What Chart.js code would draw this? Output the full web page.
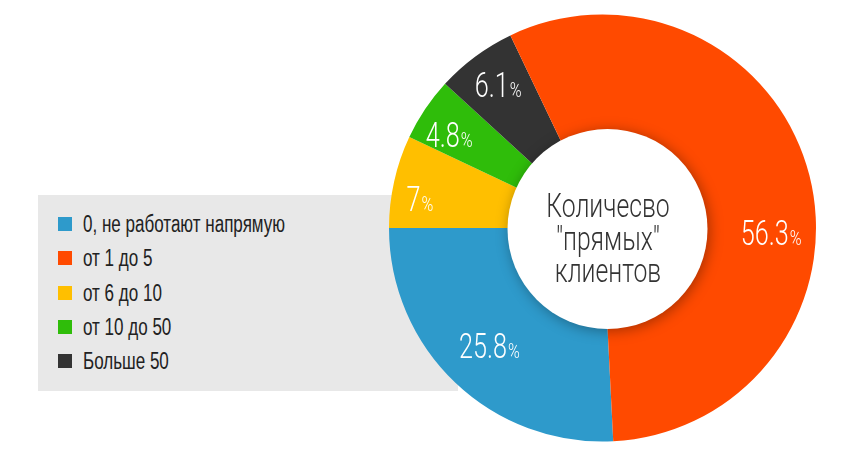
<!DOCTYPE html>
<html>
<head>
<meta charset="utf-8">
<script src="https://cdn.jsdelivr.net/npm/chart.js@4/dist/chart.umd.min.js"></script>
<style>
  html, body { margin: 0; padding: 0; background: #fff; }
  #wrap { position: relative; width: 843px; height: 470px; overflow: hidden; }
  #legendBox {
    position: absolute; left: 38px; top: 195px; width: 420px; height: 196px;
    background: #e8e8e8;
  }
  .leg-item {
    position: absolute; left: 20px; height: 24px; line-height: 24px;
    font-family: "Liberation Sans", Arial, sans-serif;
    font-size: 23px; color: #222; white-space: nowrap;
  }
  .leg-item i {
    position: absolute; left: 0; top: 5px; width: 14px; height: 14px;
  }
  .leg-item span {
    position: absolute; left: 25px; top: 0;
    transform: scaleX(0.74); transform-origin: 0 50%;
  }
  #chart { position: absolute; left: 0; top: 0; }
</style>
</head>
<body>
<div id="wrap">
  <div id="legendBox"></div>
  <canvas id="chart" width="843" height="470"></canvas>
</div>
<script>
// values in legend order
const categories = ['0, не работают напрямую', 'от 1 до 5', 'от 6 до 10', 'от 10 до 50', 'Больше 50'];
const shares = [25.8, 56.3, 7, 4.8, 6.1];
const colors = ['#2e9acb', '#ff4a00', '#ffbf00', '#2fbd0a', '#333333'];
// slices go clockwise starting with the blue one
const sliceOrder = [0, 2, 3, 4, 1];
const centerTitle = ['Количесво', '"прямых"', 'клиентов'];

// label placement tweaks (in slice order)
const labelShiftDeg = [0.3, -3.3, -2.6, 0.5, 15.6];
const labelRadius = [0.765, 0.867, 0.84, 0.83, 0.79];

const LIGHT = '300 35px Roboto, "Liberation Sans", sans-serif';
const LIGHT_PCT = '300 20px Roboto, "Liberation Sans", sans-serif';
const TITLE = '300 33px Roboto, "Liberation Sans", sans-serif';

const box = document.getElementById('legendBox');
categories.forEach((name, i) => {
    const row = document.createElement('div');
    row.className = 'leg-item';
    row.style.top = (17 + i * 34.3) + 'px';
    row.innerHTML = `<i style="background:${colors[i]}"></i><span>${name}</span>`;
    box.appendChild(row);
});

// draws text squeezed horizontally
function squeezed(ctx, text, x, y, font, sx) {
    ctx.save();
    ctx.font = font;
    ctx.translate(x, y);
    ctx.scale(sx, 1);
    ctx.fillText(text, 0, 0);
    ctx.restore();
}
function squeezedWidth(ctx, text, font, sx) {
    ctx.save();
    ctx.font = font;
    const w = ctx.measureText(text).width * sx;
    ctx.restore();
    return w;
}

const centerPlugin = {
    id: 'centerDisc',
    afterDatasetsDraw(chart) {
        const ctx = chart.ctx;
        const meta = chart.getDatasetMeta(0);
        const cx = meta.data[0].x, cy = meta.data[0].y, R = meta.data[0].outerRadius;

        // percentage labels
        meta.data.forEach((a, k) => {
            const idx = sliceOrder[k];
            const mid = (a.startAngle + a.endAngle) / 2 + labelShiftDeg[k] * Math.PI / 180;
            const r = R * labelRadius[k];
            const x = cx + Math.cos(mid) * r;
            const y = cy + Math.sin(mid) * r;
            const num = String(shares[idx]);
            ctx.save();
            ctx.fillStyle = '#fff';
            ctx.textAlign = 'left';
            ctx.textBaseline = 'alphabetic';
            const wNum = squeezedWidth(ctx, num, LIGHT, 0.72);
            const wPct = squeezedWidth(ctx, '%', LIGHT_PCT, 0.8);
            const left = x - (wNum + wPct + 1) / 2;
            squeezed(ctx, num, left, y + 12.5, LIGHT, 0.72);
            squeezed(ctx, '%', left + wNum + 1, y + 12.5, LIGHT_PCT, 0.8);
            ctx.restore();
        });

        // white disc with shadow
        ctx.save();
        ctx.shadowColor = 'rgba(0,0,0,0.35)';
        ctx.shadowBlur = 14;
        ctx.shadowOffsetX = 2;
        ctx.shadowOffsetY = 2;
        ctx.fillStyle = '#fff';
        ctx.beginPath();
        ctx.arc(cx + 5, cy + 1, 100, 0, Math.PI * 2);
        ctx.fill();
        ctx.restore();

        ctx.save();
        ctx.fillStyle = '#333';
        ctx.textAlign = 'left';
        ctx.textBaseline = 'alphabetic';
        centerTitle.forEach((line, i) => {
            const w = squeezedWidth(ctx, line, TITLE, 0.75);
            squeezed(ctx, line, cx + 5.5 - w / 2, cy - 11 + i * 32.5, TITLE, 0.75);
        });
        ctx.restore();
    }
};

new Chart(document.getElementById('chart'), {
    type: 'doughnut',
    data: {
        labels: sliceOrder.map(i => categories[i]),
        datasets: [{
            data: sliceOrder.map(i => shares[i]),
            backgroundColor: sliceOrder.map(i => colors[i]),
            borderWidth: 0
        }]
    },
    options: {
        responsive: false,
        animation: false,
        cutout: '40%',
        rotation: 270 - shares[sliceOrder[0]] * 3.6,
        layout: { padding: { left: 389, right: 27, top: 14, bottom: 28 } },
        plugins: {
            legend: { display: false },
            tooltip: { enabled: false }
        }
    },
    plugins: [centerPlugin]
});
</script>
</body>
</html>
